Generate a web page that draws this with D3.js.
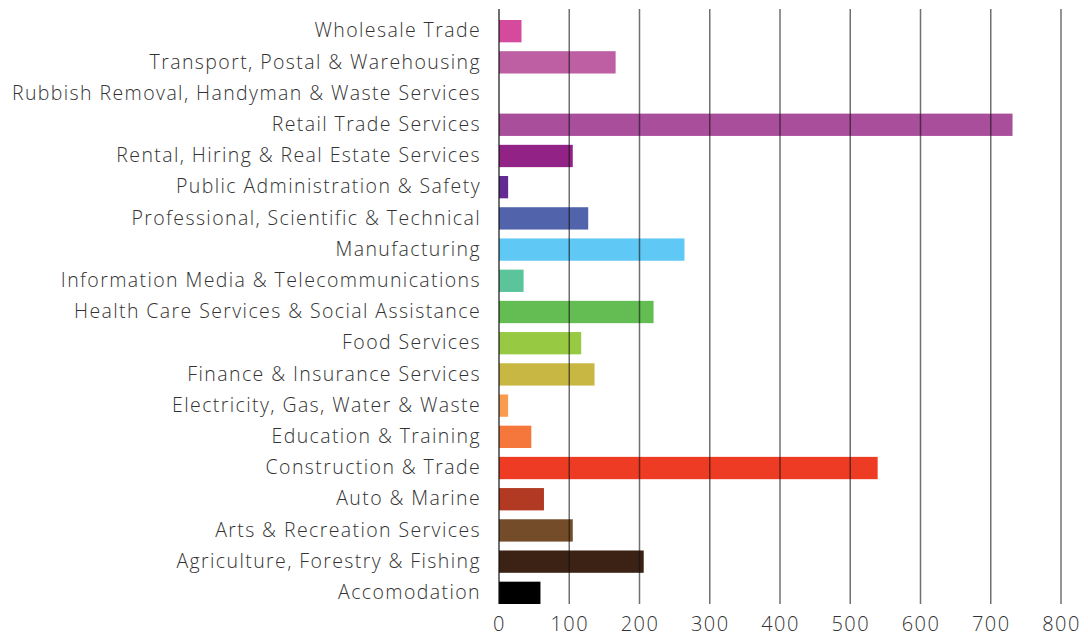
<!DOCTYPE html>
<html>
<head>
<meta charset="utf-8">
<script src="https://cdn.jsdelivr.net/npm/d3@7"></script>
<style>
  body { margin: 0; background: #fff; }
  svg text { font-family: "Open Sans", Lato, sans-serif; font-weight: 300; fill: #333; }
</style>
</head>
<body>
<script>
// industries, top to bottom
const industries = [
  'Wholesale Trade',
  'Transport, Postal & Warehousing',
  'Rubbish Removal, Handyman & Waste Services',
  'Retail Trade Services',
  'Rental, Hiring & Real Estate Services',
  'Public Administration & Safety',
  'Professional, Scientific & Technical',
  'Manufacturing',
  'Information Media & Telecommunications',
  'Health Care Services & Social Assistance',
  'Food Services',
  'Finance & Insurance Services',
  'Electricity, Gas, Water & Waste',
  'Education & Training',
  'Construction & Trade',
  'Auto & Marine',
  'Arts & Recreation Services',
  'Agriculture, Forestry & Fishing',
  'Accomodation'
];

const counts = [32, 166, 0, 731, 105, 13, 127, 264, 35, 220, 117, 136, 13, 46, 539, 64, 105, 206, 59];

const barColors = [
  '#d64a9e', '#bd5fa2', '#b05aa0', '#a94e9b', '#922286', '#622a92',
  '#5063ab', '#60c8f5', '#5bc49b', '#63bd52', '#98c943', '#c8b843',
  '#f99c50', '#f5773c', '#ee3b23', '#b23a22', '#744c29', '#3c2214', '#000000'
];

const xTicks = [0, 100, 200, 300, 400, 500, 600, 700, 800];

const W = 1088, H = 637;
const margin = {top: 9, right: 27, bottom: 33, left: 499};
const width = W - margin.left - margin.right;
const height = H - margin.top - margin.bottom;

const svg = d3.select('body').append('svg')
  .attr('width', W)
  .attr('height', H);

const g = svg.append('g')
  .attr('transform', `translate(${margin.left},${margin.top})`);

const x = d3.scaleLinear().domain([0, 800]).range([0, width]);
// bars start a little below the top of the grid and sit on its bottom
const y = d3.scaleBand().domain(industries).range([11, height]).paddingInner(0.285).paddingOuter(0);

const data = industries.map((name, i) => ({name, value: counts[i], color: barColors[i]}));

// bars
g.selectAll('rect.bar')
  .data(data)
  .join('rect')
  .attr('class', 'bar')
  .attr('x', 0)
  .attr('y', d => y(d.name))
  .attr('height', y.bandwidth())
  .attr('width', d => x(d.value))
  .attr('fill', d => d.color);

// vertical grid lines, drawn over the bars
g.selectAll('line.grid')
  .data(xTicks)
  .join('line')
  .attr('class', 'grid')
  .attr('x1', d => x(d)).attr('x2', d => x(d))
  .attr('y1', 0).attr('y2', height)
  .attr('stroke', '#111')
  .attr('stroke-opacity', d => d === 0 ? 0.8 : 0.6)
  .attr('stroke-width', 1.5);

// x axis labels
const xAxis = g.append('g')
  .attr('transform', `translate(0,${height})`)
  .call(d3.axisBottom(x).tickValues(xTicks).tickSize(0).tickPadding(13));
xAxis.select('.domain').remove();
xAxis.selectAll('text')
  .style('font-size', '20px')
  .style('letter-spacing', '1.5px')
  .attr('fill', '#333');

// category labels
const yAxis = g.append('g')
  .call(d3.axisLeft(y).tickSize(0).tickPadding(18));
yAxis.select('.domain').remove();
yAxis.selectAll('text')
  .style('font-size', '19.5px')
  .style('letter-spacing', '1.4px')
  .attr('fill', '#333');
</script>
</body>
</html>
